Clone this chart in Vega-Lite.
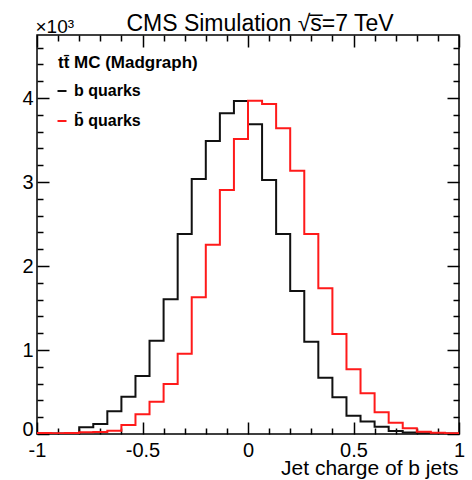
{
  "$schema": "https://vega.github.io/schema/vega-lite/v6.json",
  "width": 422,
  "height": 399,
  "autosize": "none",
  "padding": {"left": 37, "top": 35, "right": 13, "bottom": 46},
  "background": "white",
  "config": {
    "font": "Liberation Sans",
    "view": {"stroke": "#000", "strokeWidth": 1.5},
    "axis": {
      "grid": false,
      "domain": false,
      "tickColor": "#000",
      "tickWidth": 1.5,
      "labelColor": "#000",
      "titleColor": "#000",
      "labelFont": "Liberation Sans",
      "titleFont": "Liberation Sans",
      "labelFontSize": 20,
      "titleFontWeight": "normal",
      "labelFlush": false,
      "labelOverlap": false
    }
  },
  "title": {
    "text": "CMS Simulation √s̅=7 TeV",
    "font": "Liberation Sans",
    "fontSize": 23,
    "fontWeight": "normal",
    "color": "#000",
    "anchor": "middle",
    "frame": "group",
    "baseline": "alphabetic",
    "offset": 7,
    "dx": 12,
    "dy": 44
  },
  "data": {
    "values": [
      {"q": "b", "lo": -1.0, "n": 8},
      {"q": "b", "lo": -0.9333, "n": 5},
      {"q": "b", "lo": -0.8667, "n": 12},
      {"q": "b", "lo": -0.8, "n": 80},
      {"q": "b", "lo": -0.7333, "n": 119},
      {"q": "b", "lo": -0.6667, "n": 270},
      {"q": "b", "lo": -0.6, "n": 444},
      {"q": "b", "lo": -0.5333, "n": 690},
      {"q": "b", "lo": -0.4667, "n": 1111},
      {"q": "b", "lo": -0.4, "n": 1603},
      {"q": "b", "lo": -0.3333, "n": 2381},
      {"q": "b", "lo": -0.2667, "n": 3036},
      {"q": "b", "lo": -0.2, "n": 3488},
      {"q": "b", "lo": -0.1333, "n": 3817},
      {"q": "b", "lo": -0.0667, "n": 3964},
      {"q": "b", "lo": 0.0, "n": 3687},
      {"q": "b", "lo": 0.0667, "n": 3024},
      {"q": "b", "lo": 0.1333, "n": 2381},
      {"q": "b", "lo": 0.2, "n": 1702},
      {"q": "b", "lo": 0.2667, "n": 1099},
      {"q": "b", "lo": 0.3333, "n": 670},
      {"q": "b", "lo": 0.4, "n": 437},
      {"q": "b", "lo": 0.4667, "n": 218},
      {"q": "b", "lo": 0.5333, "n": 150},
      {"q": "b", "lo": 0.6, "n": 85},
      {"q": "b", "lo": 0.6667, "n": 35},
      {"q": "b", "lo": 0.7333, "n": 18},
      {"q": "b", "lo": 0.8, "n": 10},
      {"q": "b", "lo": 0.8667, "n": 8},
      {"q": "b", "lo": 0.9333, "n": 5},
      {"q": "b", "lo": 1.0, "n": 5},
      {"q": "bbar", "lo": -1.0, "n": 12},
      {"q": "bbar", "lo": -0.9333, "n": 8},
      {"q": "bbar", "lo": -0.8667, "n": 12},
      {"q": "bbar", "lo": -0.8, "n": 20},
      {"q": "bbar", "lo": -0.7333, "n": 25},
      {"q": "bbar", "lo": -0.6667, "n": 40},
      {"q": "bbar", "lo": -0.6, "n": 107},
      {"q": "bbar", "lo": -0.5333, "n": 234},
      {"q": "bbar", "lo": -0.4667, "n": 385},
      {"q": "bbar", "lo": -0.4, "n": 595},
      {"q": "bbar", "lo": -0.3333, "n": 956},
      {"q": "bbar", "lo": -0.2667, "n": 1627},
      {"q": "bbar", "lo": -0.2, "n": 2254},
      {"q": "bbar", "lo": -0.1333, "n": 2905},
      {"q": "bbar", "lo": -0.0667, "n": 3512},
      {"q": "bbar", "lo": 0.0, "n": 3968},
      {"q": "bbar", "lo": 0.0667, "n": 3929},
      {"q": "bbar", "lo": 0.1333, "n": 3639},
      {"q": "bbar", "lo": 0.2, "n": 3135},
      {"q": "bbar", "lo": 0.2667, "n": 2381},
      {"q": "bbar", "lo": 0.3333, "n": 1734},
      {"q": "bbar", "lo": 0.4, "n": 1190},
      {"q": "bbar", "lo": 0.4667, "n": 770},
      {"q": "bbar", "lo": 0.5333, "n": 484},
      {"q": "bbar", "lo": 0.6, "n": 260},
      {"q": "bbar", "lo": 0.6667, "n": 135},
      {"q": "bbar", "lo": 0.7333, "n": 68},
      {"q": "bbar", "lo": 0.8, "n": 28},
      {"q": "bbar", "lo": 0.8667, "n": 16},
      {"q": "bbar", "lo": 0.9333, "n": 8},
      {"q": "bbar", "lo": 1.0, "n": 8}
    ]
  },
  "layer": [
    {
      "mark": {"type": "line", "interpolate": "step-after", "strokeWidth": 2, "clip": true},
      "encoding": {
        "x": {
          "field": "lo", "type": "quantitative",
          "scale": {"domain": [-1, 1], "nice": false, "zero": false},
          "axis": {
            "orient": "bottom",
            "values": [-1, -0.5, 0, 0.5, 1],
            "labelExpr": "'' + datum.value",
            "tickSize": -12,
            "labelPadding": 18,
            "title": "Jet charge of b jets",
            "titleFontSize": 21,
            "titleAnchor": "end",
            "titleAlign": "right",
            "titleBaseline": "alphabetic",
            "titleX": 421,
            "titleY": 40
          }
        },
        "y": {
          "field": "n", "type": "quantitative",
          "scale": {"domain": [0, 4750], "nice": false},
          "axis": {
            "orient": "left",
            "values": [0, 1000, 2000, 3000, 4000],
            "labelExpr": "'' + (datum.value / 1000)",
            "labelFlush": true,
            "labelFlushOffset": 5,
            "tickSize": -12,
            "labelPadding": 16,
            "title": "×10³",
            "titleFontSize": 19,
            "titleAngle": 0,
            "titleAlign": "left",
            "titleBaseline": "alphabetic",
            "titleX": -2,
            "titleY": -3
          }
        },
        "color": {
          "field": "q", "type": "nominal",
          "scale": {"domain": ["b", "bbar"], "range": ["#111111", "#ff1a1a"]},
          "legend": {
            "orient": "none",
            "legendX": 21,
            "legendY": 20,
            "padding": 0,
            "title": "tt̄ MC (Madgraph)",
            "titleFont": "Liberation Sans",
            "titleFontSize": 17,
            "titleFontWeight": "bold",
            "titleColor": "#000",
            "titlePadding": 11,
            "labelExpr": "datum.value == 'b' ? 'b quarks' : 'b̄ quarks'",
            "labelFont": "Liberation Sans",
            "labelFontSize": 16,
            "labelFontWeight": "bold",
            "labelColor": "#000",
            "labelOffset": 4,
            "symbolOffset": -4,
            "symbolType": "stroke",
            "symbolSize": 81,
            "symbolStrokeWidth": 2,
            "rowPadding": 14
          }
        }
      }
    },
    {
      "mark": {"type": "line", "strokeOpacity": 0},
      "encoding": {
        "x": {"field": "lo", "type": "quantitative", "axis": {"orient": "bottom", "values": [-0.9, -0.8, -0.7, -0.6, -0.4, -0.3, -0.2, -0.1, 0.1, 0.2, 0.3, 0.4, 0.6, 0.7, 0.8, 0.9], "tickSize": -6, "labels": false, "title": null}},
        "y": {"field": "n", "type": "quantitative", "axis": {"orient": "left", "values": [200, 400, 600, 800, 1200, 1400, 1600, 1800, 2200, 2400, 2600, 2800, 3200, 3400, 3600, 3800, 4200, 4400, 4600], "tickSize": -6, "labels": false, "title": null}},
        "detail": {"field": "q"}
      }
    },
    {
      "mark": {"type": "line", "strokeOpacity": 0},
      "encoding": {
        "x": {"field": "lo", "type": "quantitative", "axis": {"orient": "top", "values": [-1, -0.5, 0, 0.5, 1], "tickSize": -12, "labels": false, "title": null}},
        "y": {"field": "n", "type": "quantitative", "axis": {"orient": "right", "values": [0, 1000, 2000, 3000, 4000], "tickSize": -12, "labels": false, "title": null}},
        "detail": {"field": "q"}
      }
    },
    {
      "mark": {"type": "line", "strokeOpacity": 0},
      "encoding": {
        "x": {"field": "lo", "type": "quantitative", "axis": {"orient": "top", "values": [-0.9, -0.8, -0.7, -0.6, -0.4, -0.3, -0.2, -0.1, 0.1, 0.2, 0.3, 0.4, 0.6, 0.7, 0.8, 0.9], "tickSize": -6, "labels": false, "title": null}},
        "y": {"field": "n", "type": "quantitative", "axis": {"orient": "right", "values": [200, 400, 600, 800, 1200, 1400, 1600, 1800, 2200, 2400, 2600, 2800, 3200, 3400, 3600, 3800, 4200, 4400, 4600], "tickSize": -6, "labels": false, "title": null}},
        "detail": {"field": "q"}
      }
    }
  ],
  "resolve": {"axis": {"x": "independent", "y": "independent"}}
}
